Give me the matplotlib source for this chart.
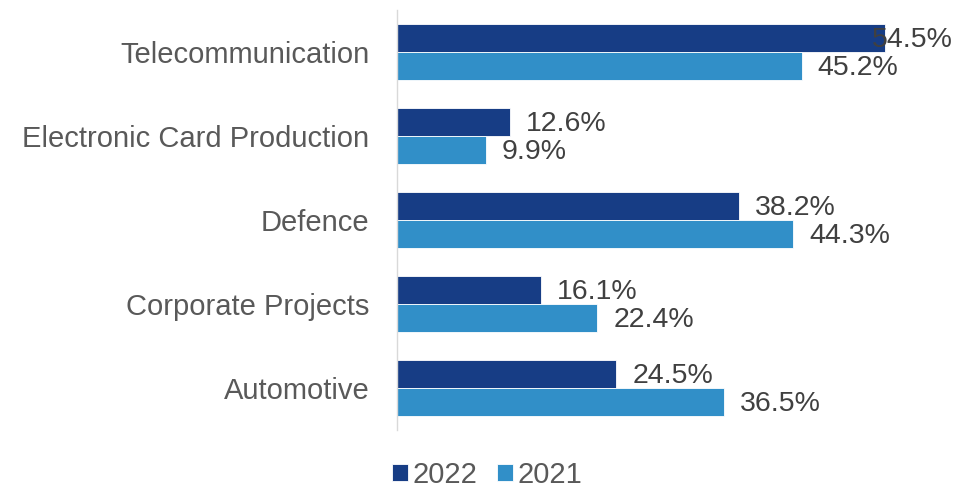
import numpy as np
from matplotlib import pyplot as plt

plt.rcParams['font.family'] = ['Liberation Sans', 'DejaVu Sans']

categories = ["Automotive", "Corporate Projects", "Defence",
              "Electronic Card Production", "Telecommunication"]
values_2022 = [24.5, 16.1, 38.2, 12.6, 54.5]
values_2021 = [36.5, 22.4, 44.3, 9.9, 45.2]

c2022 = "#173d85"
c2021 = "#318fc8"

fig = plt.figure(figsize=(9.59, 4.93), dpi=100)
ax = fig.add_axes([397 / 959, 63 / 493, 537 / 959, 420 / 493])

y = np.arange(len(categories))
h = 0.33
ax.barh(y + h / 2, values_2022, height=h, color=c2022, edgecolor="white",
        linewidth=0.6, label="2022")
ax.barh(y - h / 2, values_2021, height=h, color=c2021, edgecolor="white",
        linewidth=0.6, label="2021")

xmax = 60
# value labels just past the bar end, pulled back inside when they would run off
for vals, off in ((values_2022, h / 2), (values_2021, -h / 2)):
    for i, v in enumerate(vals):
        x = min(v + 1.8, 53.1)
        ax.text(x, y[i] + off - 0.02, f"{v:.1f}%", va="center", ha="left",
                fontsize=20.5, color="#404040")

ax.set_xlim(0, xmax)
ax.set_ylim(-0.5, len(categories) - 0.5)
ax.set_yticks(y)
ax.set_yticklabels(categories, fontsize=21, color="#595959")
ax.set_xticks([])
ax.tick_params(axis="y", length=0, pad=20)
for s in ["top", "right", "bottom"]:
    ax.spines[s].set_visible(False)
ax.spines["left"].set_color("#d9d9d9")
ax.spines["left"].set_linewidth(1)

leg = fig.legend(loc="lower center", bbox_to_anchor=(0.508, -0.045), ncol=2,
                 frameon=False, fontsize=21, handlelength=0.55, handleheight=0.55,
                 handletextpad=0.15, columnspacing=0.7)
for t in leg.get_texts():
    t.set_color("#595959")

plt.savefig("out.png", dpi=100)
